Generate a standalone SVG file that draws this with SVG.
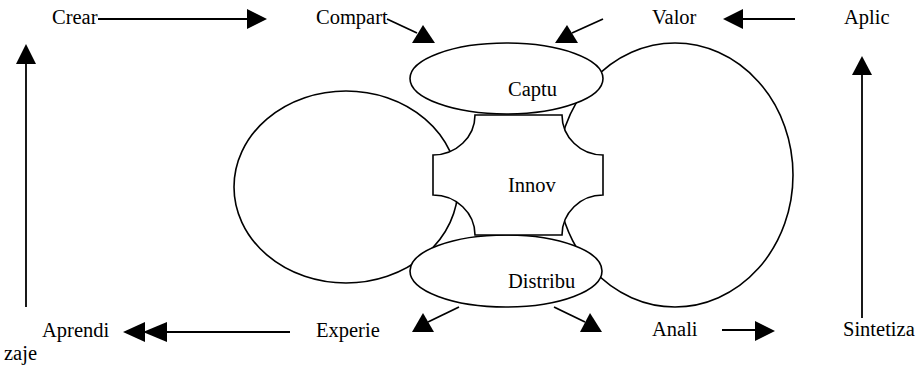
<svg xmlns="http://www.w3.org/2000/svg" width="919" height="365" viewBox="0 0 919 365">
<style>
.s{fill:#fff;stroke:#000;stroke-width:1.6}
.l{stroke:#000;stroke-width:1.8;fill:none}
.h{fill:#000;stroke:none}
text{font-family:"Liberation Serif","Times New Roman",serif;font-size:20.5px;fill:#000}
</style>
<rect width="919" height="365" fill="#fff"/>
<g id="left-circle"><ellipse class="s" cx="346" cy="187" rx="112" ry="96"/></g>
<g id="right-circle"><ellipse class="s" cx="675" cy="175" rx="118" ry="132"/></g>
<g id="captu"><ellipse class="s" cx="506.5" cy="78.5" rx="96.5" ry="35.5"/><text x="508" y="96">Captu</text></g>
<g id="distribu"><ellipse class="s" cx="506" cy="271" rx="96" ry="36"/><text x="508" y="288">Distribu</text></g>
<g id="innov"><path class="s" d="M475,115 L562,115 A41,40 0 0 0 603,155 L603,195 A41,40 0 0 0 562,235 L475,235 A42,40 0 0 0 433,195 L433,155 A42,40 0 0 0 475,115 Z"/><text x="508" y="192">Innov</text></g>
<g id="crear"><text x="52" y="24">Crear</text></g>
<g id="compart"><text x="316" y="24">Compart</text></g>
<g id="valor"><text x="652" y="24">Valor</text></g>
<g id="aplic"><text x="844" y="24">Aplic</text></g>
<g id="aprendizaje"><text x="42" y="337">Aprendi</text><text x="4" y="360">zaje</text></g>
<g id="experie"><text x="316" y="337">Experie</text></g>
<g id="anali"><text x="652" y="336">Anali</text></g>
<g id="sintetiza"><text x="843" y="336">Sintetiza</text></g>
<g id="connectors">
<line class="l" x1="98" y1="19" x2="249" y2="19"/><polygon class="h" points="247,9 267,19 247,29"/>
<line class="l" x1="387" y1="19" x2="417" y2="33"/><polygon class="h" points="412,43 435,43 423,25"/>
<line class="l" x1="603" y1="19" x2="572" y2="33"/><polygon class="h" points="555,43 578,43 567,25"/>
<line class="l" x1="795" y1="19" x2="741" y2="19"/><polygon class="h" points="743,9 723,19 743,29"/>
<line class="l" x1="26" y1="307" x2="26" y2="62"/><polygon class="h" points="16,64 26,44 36,64"/>
<line class="l" x1="862" y1="318" x2="862" y2="73"/><polygon class="h" points="852,75 862,56 872,75"/>
<line class="l" x1="290" y1="332" x2="165" y2="332"/><polygon class="h" points="145,322 123,332 145,342"/><polygon class="h" points="167,322 143,332 167,342"/>
<line class="l" x1="459" y1="307" x2="428" y2="322"/><polygon class="h" points="412,332 434,332 423,313"/>
<line class="l" x1="554" y1="307" x2="585" y2="322"/><polygon class="h" points="580,332 602,332 590,313"/>
<line class="l" x1="722" y1="330" x2="757" y2="330"/><polygon class="h" points="755,321 775,331 755,341"/>
</g>
</svg>
